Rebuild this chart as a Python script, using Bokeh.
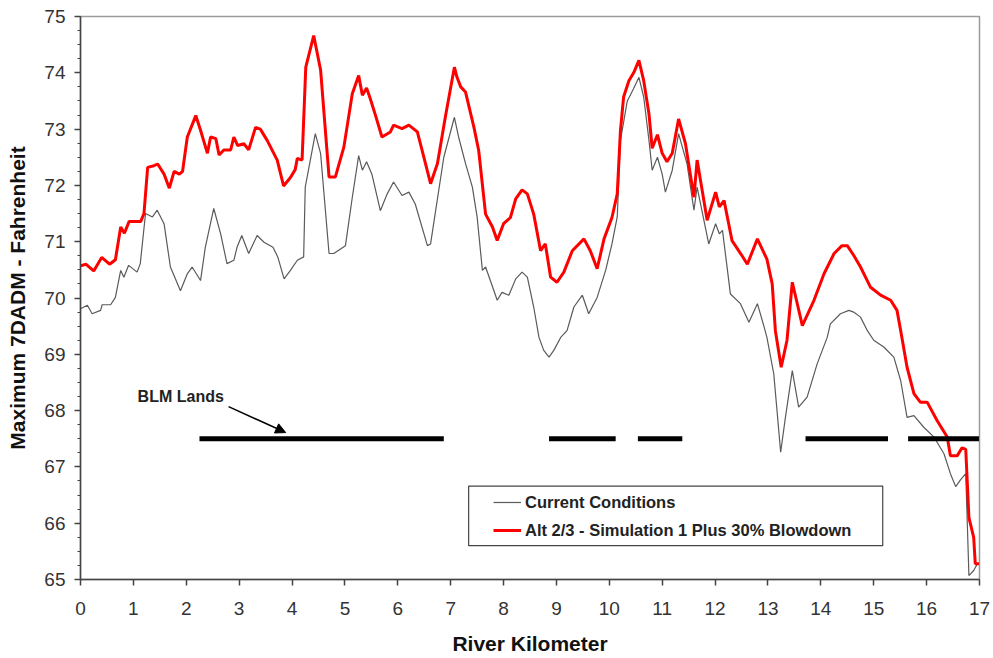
from bokeh.plotting import figure
from bokeh.models import (Range1d, FixedTicker, Legend, LegendItem, BoxAnnotation,
                          Arrow, NormalHead, Label, ColumnDataSource)
from bokeh.embed import file_html
from bokeh.resources import INLINE

# ---- data ----
cur_km = [0.00, 0.13, 0.22, 0.38, 0.41, 0.57, 0.66, 0.76, 0.82, 0.91, 1.07, 1.13, 1.23, 1.36, 1.45,
          1.58, 1.70, 1.89, 2.02, 2.11, 2.27, 2.36, 2.52, 2.65, 2.77, 2.90, 2.96, 3.05, 3.18, 3.34,
          3.47, 3.64, 3.73, 3.85, 3.97, 4.10, 4.22, 4.25, 4.44, 4.54, 4.70, 4.79, 5.01, 5.14, 5.26,
          5.33, 5.41, 5.51, 5.67, 5.80, 5.92, 6.08, 6.21, 6.33, 6.56, 6.62, 6.87, 7.07, 7.15, 7.28,
          7.41, 7.50, 7.60, 7.66, 7.75, 7.88, 7.97, 8.10, 8.23, 8.35, 8.45, 8.57, 8.67, 8.76, 8.86,
          8.95, 9.08, 9.20, 9.33, 9.49, 9.61, 9.77, 9.93, 10.05, 10.15, 10.21, 10.34, 10.46, 10.56,
          10.65, 10.75, 10.81, 10.91, 11.00, 11.06, 11.19, 11.31, 11.47, 11.60, 11.66, 11.88, 12.01,
          12.08, 12.14, 12.29, 12.48, 12.64, 12.80, 12.92, 12.98, 13.11, 13.24, 13.33, 13.46, 13.58,
          13.74, 13.93, 14.12, 14.18, 14.37, 14.53, 14.62, 14.75, 14.88, 15.00, 15.19, 15.38, 15.51,
          15.63, 15.76, 15.95, 16.14, 16.33, 16.45, 16.55, 16.64, 16.74, 16.80, 16.89, 16.96]
cur_temp = [69.81, 69.87, 69.72, 69.78, 69.88, 69.88, 70.01, 70.49, 70.37, 70.58, 70.46, 70.61, 71.50,
            71.44, 71.56, 71.32, 70.55, 70.13, 70.43, 70.55, 70.31, 70.90, 71.59, 71.14, 70.61, 70.67,
            70.90, 71.11, 70.79, 71.11, 70.99, 70.90, 70.73, 70.34, 70.49, 70.67, 70.73, 71.97, 72.92,
            72.57, 70.79, 70.79, 70.93, 71.79, 72.53, 72.27, 72.42, 72.20, 71.55, 71.85, 72.06, 71.82,
            71.88, 71.67, 70.93, 70.96, 72.50, 73.21, 72.86, 72.39, 71.97, 71.44, 70.49, 70.55, 70.31,
            69.96, 70.10, 70.05, 70.34, 70.46, 70.37, 69.84, 69.30, 69.07, 68.95, 69.07, 69.30, 69.42,
            69.84, 70.05, 69.72, 70.01, 70.49, 70.96, 71.44, 72.80, 73.50, 73.72, 73.92, 73.57, 72.80,
            72.27, 72.50, 72.20, 71.88, 72.27, 72.92, 72.38, 71.56, 71.97, 70.96, 71.32, 71.14, 71.20,
            70.07, 69.90, 69.57, 69.90, 69.51, 69.30, 68.65, 67.26, 67.88, 68.71, 68.06, 68.24, 68.83,
            69.30, 69.54, 69.72, 69.78, 69.75, 69.66, 69.42, 69.25, 69.13, 68.95, 68.53, 67.88, 67.91,
            67.70, 67.53, 67.23, 66.88, 66.65, 66.77, 66.88, 65.07, 65.16, 65.28]

alt_km = [0.00, 0.10, 0.25, 0.40, 0.55, 0.66, 0.76, 0.83, 0.92, 1.14, 1.20, 1.27, 1.39, 1.46, 1.58,
          1.68, 1.77, 1.87, 1.93, 2.02, 2.18, 2.27, 2.40, 2.46, 2.56, 2.62, 2.71, 2.84, 2.90, 2.97,
          3.09, 3.18, 3.31, 3.40, 3.53, 3.72, 3.84, 3.97, 4.06, 4.10, 4.19, 4.26, 4.41, 4.54, 4.70,
          4.82, 4.98, 5.14, 5.26, 5.33, 5.41, 5.48, 5.58, 5.70, 5.86, 5.92, 6.08, 6.21, 6.37, 6.49,
          6.62, 6.75, 6.90, 7.07, 7.12, 7.19, 7.28, 7.44, 7.53, 7.66, 7.79, 7.88, 8.00, 8.13, 8.23,
          8.35, 8.45, 8.57, 8.70, 8.79, 8.89, 9.01, 9.14, 9.30, 9.52, 9.64, 9.77, 9.90, 10.05, 10.15,
          10.21, 10.27, 10.37, 10.46, 10.56, 10.65, 10.75, 10.81, 10.91, 11.00, 11.09, 11.19, 11.31,
          11.44, 11.60, 11.66, 11.85, 12.01, 12.08, 12.17, 12.32, 12.51, 12.61, 12.80, 12.98, 13.08,
          13.14, 13.25, 13.36, 13.46, 13.65, 13.87, 14.06, 14.25, 14.40, 14.50, 14.62, 14.75, 14.94,
          15.13, 15.32, 15.44, 15.51, 15.63, 15.76, 15.88, 16.01, 16.20, 16.39, 16.45, 16.58, 16.67,
          16.74, 16.80, 16.89, 16.92, 16.99]
alt_temp = [70.57, 70.60, 70.48, 70.72, 70.60, 70.68, 71.26, 71.15, 71.36, 71.36, 71.50, 72.32, 72.35,
            72.38, 72.20, 71.95, 72.25, 72.20, 72.25, 72.86, 73.24, 72.98, 72.57, 72.86, 72.83, 72.54,
            72.63, 72.63, 72.86, 72.71, 72.74, 72.63, 73.03, 73.00, 72.80, 72.45, 71.99, 72.14, 72.28,
            72.48, 72.45, 74.10, 74.66, 74.05, 72.15, 72.15, 72.68, 73.63, 73.95, 73.60, 73.73, 73.54,
            73.24, 72.86, 72.95, 73.07, 73.01, 73.07, 72.95, 72.51, 72.03, 72.39, 73.22, 74.10, 73.92,
            73.75, 73.66, 73.03, 72.62, 71.49, 71.26, 71.02, 71.32, 71.43, 71.76, 71.92, 71.85, 71.49,
            70.84, 70.96, 70.37, 70.28, 70.46, 70.84, 71.05, 70.84, 70.52, 71.05, 71.43, 71.85, 72.97,
            73.57, 73.86, 74.00, 74.22, 73.86, 73.27, 72.66, 72.90, 72.57, 72.42, 72.57, 73.18, 72.74,
            71.79, 72.45, 71.38, 71.88, 71.62, 71.73, 71.02, 70.75, 70.60, 71.05, 70.69, 70.25, 69.42,
            68.77, 69.25, 70.28, 69.51, 69.96, 70.43, 70.79, 70.93, 70.93, 70.76, 70.55, 70.19, 70.05,
            69.96, 69.78, 69.42, 68.77, 68.30, 68.15, 68.15, 67.82, 67.53, 67.20, 67.20, 67.34, 67.31,
            66.10, 65.75, 65.28, 65.28]

blm_start = [2.25, 8.86, 10.54, 13.71, 15.65]
blm_end = [6.87, 10.12, 11.38, 15.27, 16.99]
blm_level = [67.5, 67.5, 67.5, 67.5, 67.5]

x_ticks = list(range(0, 18))
y_ticks = list(range(65, 76))
y_minor = [65 + 0.25 * i for i in range(41)]

cur_label = "Current Conditions"
alt_label = "Alt 2/3 - Simulation 1 Plus 30% Blowdown"

FONT = "Liberation Sans"

p = figure(width=991, height=658, x_range=Range1d(0, 17), y_range=Range1d(65, 75),
           output_backend="svg", toolbar_location=None,
           min_border_left=80, min_border_top=16, min_border_right=12, min_border_bottom=79)
p.xgrid.visible = False
p.ygrid.visible = False
p.outline_line_color = "#9a9a9a"
p.outline_line_width = 1.5
p.background_fill_color = "white"

p.xaxis.ticker = FixedTicker(ticks=x_ticks, minor_ticks=[])
p.yaxis.ticker = FixedTicker(ticks=y_ticks, minor_ticks=y_minor)
for ax in (p.xaxis, p.yaxis):
    ax.axis_line_color = "#444444"
    ax.axis_line_width = 1.5
    ax.major_tick_line_color = "#444444"
    ax.major_tick_line_width = 1.5
    ax.major_tick_out = 6
    ax.major_tick_in = 0
    ax.minor_tick_line_color = "#444444"
    ax.minor_tick_out = 3
    ax.minor_tick_in = 0
    ax.major_label_text_font = FONT
    ax.major_label_text_font_size = "19px"
    ax.major_label_text_color = "#333333"
    ax.axis_label_text_font = FONT
    ax.axis_label_text_font_size = "21px"
    ax.axis_label_text_font_style = "bold"
    ax.axis_label_text_color = "#111111"
p.xaxis.minor_tick_line_color = None
p.xaxis.major_label_standoff = 16
p.yaxis.major_label_standoff = 9
p.xaxis.axis_label_standoff = 14
p.yaxis.axis_label_standoff = 12
p.xaxis.axis_label = "River Kilometer"
p.yaxis.axis_label = "Maximum 7DADM - Fahrenheit"

cur_src = ColumnDataSource(dict(x=cur_km, y=cur_temp))
alt_src = ColumnDataSource(dict(x=alt_km, y=alt_temp))
r_cur = p.line("x", "y", source=cur_src, line_color="#5a5a5a", line_width=1.2)
r_alt = p.line("x", "y", source=alt_src, line_color="#ff0000", line_width=3)

p.segment(x0=blm_start, x1=blm_end, y0=blm_level, y1=blm_level,
          line_color="black", line_width=5)

p.add_layout(Arrow(end=NormalHead(size=10, fill_color="black", line_color="black"),
                   x_start=2.80, y_start=68.07, x_end=3.88, y_end=67.61,
                   line_color="black", line_width=1.5))
p.add_layout(Label(x=1.08, y=68.25, text="BLM Lands", text_font=FONT, text_font_size="16px",
                   text_font_style="bold", text_baseline="middle", text_color="#222222"))

# legend frame
p.add_layout(BoxAnnotation(left=7.34, right=15.17, bottom=65.60, top=66.66,
                           fill_color="white", fill_alpha=1.0,
                           line_color="#444444", line_width=1.2, line_alpha=1.0))
legend = Legend(items=[LegendItem(label=cur_label, renderers=[r_cur]),
                       LegendItem(label=alt_label, renderers=[r_alt])],
                location=(413, 39), border_line_color=None, background_fill_alpha=0,
                padding=0, margin=0, spacing=8, label_height=20, glyph_height=20,
                glyph_width=28, label_standoff=4,
                label_text_font=FONT, label_text_font_size="16.5px",
                label_text_font_style="bold", label_text_color="#222222")
p.add_layout(legend)

open("out.html", "w").write(file_html(p, INLINE))
